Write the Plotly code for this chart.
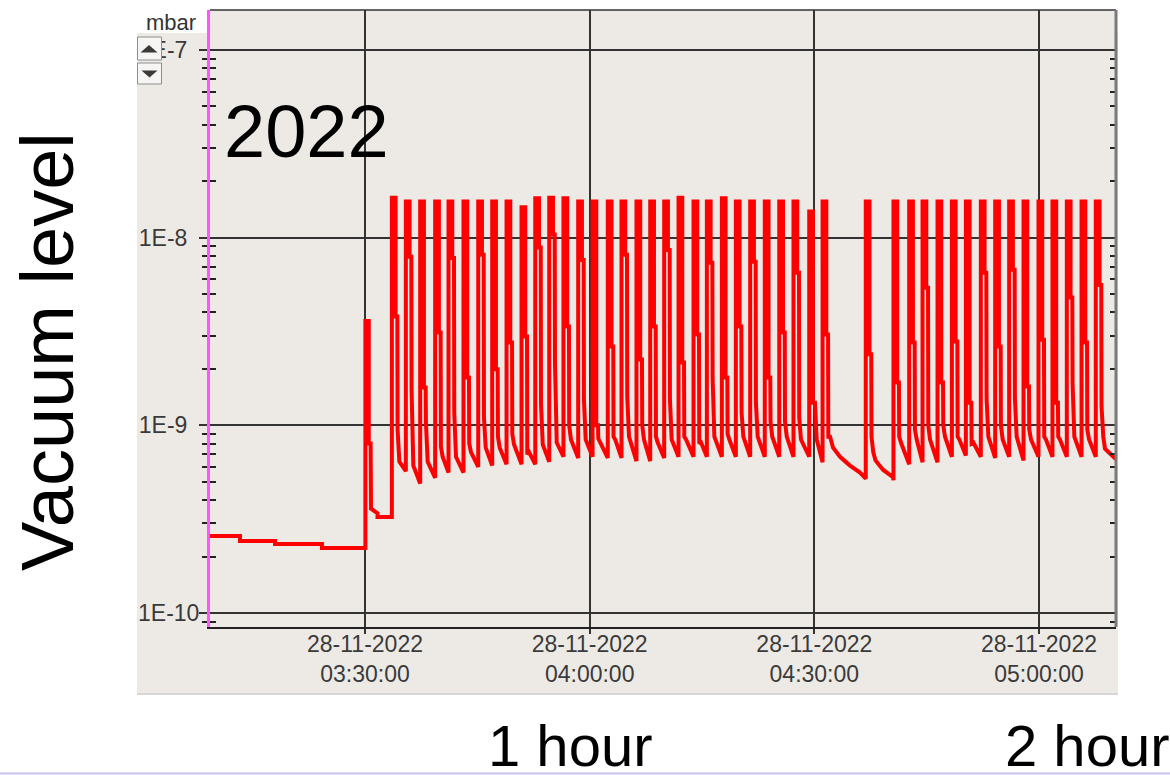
import pandas as pd
import plotly.graph_objects as go

DATE = "2022-11-28"

# ---- data (pressure in mbar) ----
# slow baseline before the cycling starts, and the first small bump at 03:30
intro_times = ["03:09:18", "03:13:18", "03:13:18", "03:17:59", "03:17:59", "03:24:15", "03:24:15",
               "03:30:03", "03:30:03", "03:30:30", "03:30:30", "03:30:45", "03:30:48",
               "03:31:40", "03:31:40"]
intro_values = [2.57e-10, 2.57e-10, 2.42e-10, 2.42e-10, 2.33e-10, 2.33e-10, 2.22e-10,
                2.22e-10, 3.6e-9, 3.6e-9, 8.0e-10, 8.0e-10, 3.6e-10,
                3.4e-10, 3.25e-10]

# one entry per pressure spike
spike_times = ["03:33:55", "03:35:47", "03:37:42", "03:39:42", "03:41:29", "03:43:29", "03:45:27",
               "03:47:19", "03:49:14", "03:51:14", "03:53:04", "03:54:56", "03:56:50", "03:58:48",
               "04:00:43", "04:02:45", "04:04:35", "04:06:35", "04:08:25", "04:10:17", "04:12:12",
               "04:14:12", "04:15:59", "04:17:59", "04:19:51", "04:21:46", "04:23:43", "04:25:39",
               "04:27:33", "04:29:39", "04:31:26", "04:37:12", "04:40:54", "04:43:00", "04:44:47",
               "04:46:47", "04:48:42", "04:50:34", "04:52:34", "04:54:29", "04:56:21", "04:58:16",
               "05:00:16", "05:02:08", "05:04:03", "05:06:01", "05:07:55"]
spike_peak = [1.63e-8, 1.56e-8, 1.56e-8, 1.56e-8, 1.56e-8, 1.56e-8, 1.56e-8,
              1.56e-8, 1.56e-8, 1.45e-8, 1.62e-8, 1.63e-8, 1.62e-8, 1.56e-8,
              1.56e-8, 1.56e-8, 1.56e-8, 1.56e-8, 1.56e-8, 1.56e-8, 1.63e-8,
              1.56e-8, 1.56e-8, 1.62e-8, 1.56e-8, 1.56e-8, 1.56e-8, 1.56e-8,
              1.56e-8, 1.38e-8, 1.56e-8, 1.56e-8, 1.56e-8, 1.56e-8, 1.56e-8,
              1.56e-8, 1.56e-8, 1.56e-8, 1.56e-8, 1.56e-8, 1.56e-8, 1.56e-8,
              1.56e-8, 1.56e-8, 1.56e-8, 1.56e-8, 1.56e-8]
spike_fall1 = [3.8e-9, 7.9e-9, 1.59e-9, 3.12e-9, 7.8e-9, 1.8e-9, 8.1e-9,
               1.99e-9, 2.76e-9, 2.97e-9, 8.85e-9, 1.04e-8, 3.36e-9, 7.6e-9,
               1.0e-9, 2.63e-9, 8.1e-9, 2.24e-9, 3.36e-9, 8.6e-9, 2.16e-9,
               3.05e-9, 7.35e-9, 1.8e-9, 3.36e-9, 7.45e-9, 1.8e-9, 3.12e-9,
               6.5e-9, 1.32e-9, 3.05e-9, 2.39e-9, 1.69e-9, 2.76e-9, 5.4e-9,
               1.69e-9, 2.8e-9, 1.32e-9, 6.5e-9, 2.63e-9, 6.75e-9, 1.61e-9,
               2.86e-9, 1.32e-9, 4.8e-9, 2.76e-9, 5.6e-9]
spike_fall2 = [9.5e-10, 1.55e-9, 1.04e-9, 7.7e-10, 1.17e-9, 8.0e-10, 1.1e-9,
               8.7e-10, 9.0e-10, 7.0e-10, 1.3e-9, 2.16e-9, 1.0e-9, 1.37e-9,
               8.5e-10, 8.7e-10, 1.43e-9, 1.0e-9, 8.7e-10, 1.37e-9, 8.7e-10,
               8.0e-10, 1.8e-9, 9.0e-10, 1.17e-9, 1.32e-9, 1.05e-9, 1.05e-9,
               1.1e-9, 1.32e-9, 8.7e-10, 8.7e-10, 8.7e-10, 9.5e-10, 1.0e-9,
               1.0e-9, 8.7e-10, 8.0e-10, 1.4e-9, 1.0e-9, 1.4e-9, 9.5e-10,
               8.7e-10, 8.7e-10, 1.69e-9, 9.5e-10, 1.26e-9]
# level just after the spike has collapsed
spike_settle = [6.4e-10, 6.1e-10, 6.4e-10, 6.8e-10, 6.8e-10, 7.2e-10, 7.6e-10,
                7.6e-10, 7.9e-10, 7.2e-10, 7.9e-10, 8.1e-10, 8.4e-10, 8.4e-10,
                8.1e-10, 8.4e-10, 8.7e-10, 8.4e-10, 8.1e-10, 8.4e-10, 8.4e-10,
                8.1e-10, 8.7e-10, 8.4e-10, 8.7e-10, 8.7e-10, 8.7e-10, 8.7e-10,
                8.4e-10, 8.4e-10, 8.7e-10, 7.2e-10, 8.1e-10, 8.4e-10, 8.4e-10,
                8.7e-10, 8.4e-10, 8.1e-10, 8.7e-10, 8.4e-10, 8.7e-10, 8.4e-10,
                8.4e-10, 8.4e-10, 8.7e-10, 8.4e-10, 8.7e-10]
# lowest value reached just before each spike
spike_trough = [3.25e-10, 5.7e-10, 4.9e-10, 5.25e-10, 5.6e-10, 5.6e-10, 6.0e-10,
                6.1e-10, 6.2e-10, 6.2e-10, 6.2e-10, 6.4e-10, 6.8e-10, 6.7e-10,
                6.8e-10, 6.7e-10, 6.7e-10, 6.45e-10, 6.45e-10, 6.7e-10, 6.8e-10,
                6.8e-10, 6.8e-10, 6.8e-10, 6.8e-10, 6.8e-10, 6.8e-10, 6.8e-10,
                6.8e-10, 6.8e-10, 6.35e-10, 5.2e-10, 5.1e-10, 6.2e-10, 6.35e-10,
                6.35e-10, 6.8e-10, 6.9e-10, 6.8e-10, 6.7e-10, 6.8e-10, 6.5e-10,
                6.8e-10, 6.8e-10, 6.8e-10, 6.8e-10, 6.8e-10]

# slow decays in the pauses and at the end of the window
decay_times = ["04:32:30", "04:33:26", "04:34:46", "04:36:06",
               "04:38:10", "04:39:10", "04:40:30",
               "05:08:49", "05:10:17"]
decay_values = [7.6e-10, 6.8e-10, 6.1e-10, 5.6e-10,
                6.5e-10, 5.8e-10, 5.3e-10,
                7.5e-10, 6.6e-10]

x_tick_times = ["03:30:00", "04:00:00", "04:30:00", "05:00:00"]
x_tick_text = ["28-11-2022<br>" + t for t in x_tick_times]
y_tick_vals = [1e-10, 1e-9, 1e-8, 1e-7]
y_tick_text = ["1E-10", "1E-9", "1E-8", "1E-7"]

X_RANGE = ["03:09:18", "05:10:17"]
Y_RANGE_LOG = [-10.0745, -6.7872]


def ts(s):
    return pd.Timestamp(f"{DATE} {s}")


sec = pd.Timedelta(seconds=1)
pts = [(ts(t), v) for t, v in zip(intro_times, intro_values)]
for t, pk, f1, f2, st, tr in zip(spike_times, spike_peak, spike_fall1, spike_fall2,
                                 spike_settle, spike_trough):
    c = ts(t)
    pts += [(c - 20 * sec, tr), (c - 20 * sec, pk), (c + 10 * sec, pk),
            (c + 10 * sec, f1), (c + 24 * sec, f1), (c + 26 * sec, f2), (c + 40 * sec, st)]
pts += [(ts(t), v) for t, v in zip(decay_times, decay_values)]
pts.sort(key=lambda p: p[0])
xs = [p[0] for p in pts]
ys = [p[1] for p in pts]

# ---- layout geometry (pixels of the 1170x775 page) ----
W, H = 1170, 775
L, R, T, B = 210, 54, 10, 148
PW, PH = W - L - R, H - T - B


def px(x):
    return (x - L) / PW


def py(y):
    return (H - B - y) / PH


BG = "#edeae6"
GRID = "#333333"
FONT = "Liberation Sans"
TICKC = "#3a3a3a"

minor_vals = [k * 10.0 ** e for e in range(-11, -6) for k in range(2, 10)]
# the lowest label is drawn left-aligned as an annotation, the others as tick labels
axis_tick_text = ["" if t == "1E-10" else t for t in y_tick_text]

fig = go.Figure()
fig.add_trace(go.Scatter(x=xs, y=ys, mode="lines",
                         line=dict(color="#ff0000", width=4),
                         showlegend=False, hoverinfo="x+y"))
# invisible helper trace so the overlay axis (inside minor ticks) is drawn
fig.add_trace(go.Scatter(x=[xs[0]], y=[1e-9], yaxis="y2", mode="markers",
                         marker=dict(opacity=0), showlegend=False, hoverinfo="skip"))

fig.update_layout(
    width=W, height=H,
    margin=dict(l=L, r=R, t=T, b=B, pad=0),
    paper_bgcolor="white", plot_bgcolor=BG,
    font=dict(family=FONT, size=23, color="#333"),
    xaxis=dict(type="date", range=[ts(X_RANGE[0]), ts(X_RANGE[1])],
               tickmode="array", tickvals=[ts(t) for t in x_tick_times], ticktext=x_tick_text,
               showgrid=True, gridcolor=GRID, gridwidth=1.5,
               ticks="outside", ticklen=5, tickwidth=1.5, tickcolor=GRID,
               showline=True, linecolor="#222", linewidth=1.5,
               tickfont=dict(family=FONT, size=23, color=TICKC),
               ticklabelstandoff=-9,
               zeroline=False, fixedrange=True),
    yaxis=dict(type="log", range=Y_RANGE_LOG,
               tickmode="array", tickvals=y_tick_vals, ticktext=axis_tick_text,
               showgrid=True, gridcolor=GRID, gridwidth=1.5,
               ticks="outside", ticklen=8, tickwidth=1.5, tickcolor=GRID,
               showline=True, linecolor="#ff55ff", linewidth=3,
               tickfont=dict(family=FONT, size=23, color=TICKC),
               ticklabelstandoff=7,
               minor=dict(tickmode="array", tickvals=minor_vals, ticks="outside",
                          ticklen=5, tickwidth=1.5, tickcolor="#222", showgrid=False),
               zeroline=False, fixedrange=True),
    yaxis2=dict(type="log", range=Y_RANGE_LOG, overlaying="y", side="left", anchor="x",
                showgrid=False, showticklabels=False, showline=False,
                tickmode="array", tickvals=y_tick_vals, ticks="inside", ticklen=0,
                mirror="ticks",
                minor=dict(tickmode="array", tickvals=minor_vals, ticks="inside",
                           ticklen=6, tickwidth=1.5, tickcolor="#222", showgrid=False),
                zeroline=False, fixedrange=True),
)

shapes = [
    # grey panel of the viewer
    dict(type="rect", xref="paper", yref="paper", layer="below",
         x0=px(137), x1=px(1118), y0=py(695), y1=py(33),
         fillcolor=BG, line=dict(width=0)),
    dict(type="line", xref="paper", yref="paper", layer="below",
         x0=px(137), x1=px(1118), y0=py(694), y1=py(694),
         line=dict(color="#d2d0cc", width=1.5)),
    # plot frame (top and right)
    dict(type="line", xref="paper", yref="paper", x0=0, x1=1, y0=1, y1=1,
         line=dict(color="#333", width=1.5)),
    dict(type="line", xref="paper", yref="paper", x0=1, x1=1, y0=0, y1=1,
         line=dict(color="#7a7a7a", width=3)),
    # slide bottom rule
    dict(type="line", xref="paper", yref="paper", x0=px(0), x1=px(W), y0=py(773.5), y1=py(773.5),
         line=dict(color="#c8c2f2", width=2)),
]
# zoom buttons in the top-left corner
for (y0, y1, tri) in [(37, 60, [(140.5, 52.5), (157.5, 52.5), (149, 45)]),
                      (63, 84, [(141.5, 70.5), (157.5, 70.5), (149.5, 77.5)])]:
    shapes.append(dict(type="rect", xref="paper", yref="paper", layer="above",
                       x0=px(137.5), x1=px(161.5), y0=py(y1), y1=py(y0),
                       fillcolor="#f6f5f3", line=dict(color="#8e8e8e", width=1)))
    path = "M " + " L ".join(f"{px(a)},{py(b)}" for a, b in tri) + " Z"
    shapes.append(dict(type="path", xref="paper", yref="paper", layer="above",
                       path=path, fillcolor="#3a3a3a", line=dict(width=0)))
fig.update_layout(shapes=shapes)

annotations = [
    dict(text=y_tick_text[0], x=px(136), y=-10, yref="y", xanchor="left", yanchor="middle",
         font=dict(family=FONT, size=23, color=TICKC)),
    dict(text="mbar", x=px(171), y=py(22), xanchor="center", yanchor="middle",
         font=dict(family=FONT, size=22, color="#333")),
    dict(text="2022", x=px(222), y=py(131.5), xanchor="left", yanchor="middle",
         font=dict(family=FONT, size=74, color="black")),
    dict(text="Vacuum level", x=px(47), y=py(352), xanchor="center", yanchor="middle",
         textangle=-90, font=dict(family=FONT, size=74, color="black")),
    dict(text="1 hour", x=px(569.5), y=py(745), xanchor="center", yanchor="middle",
         font=dict(family=FONT, size=58, color="black")),
    dict(text="2 hour", x=px(1003), y=py(745), xanchor="left", yanchor="middle",
         font=dict(family=FONT, size=58, color="black")),
]
for a in annotations:
    a.setdefault("yref", "paper")
    a.update(xref="paper", showarrow=False)
fig.update_layout(annotations=annotations)

fig.write_html("out.html")
